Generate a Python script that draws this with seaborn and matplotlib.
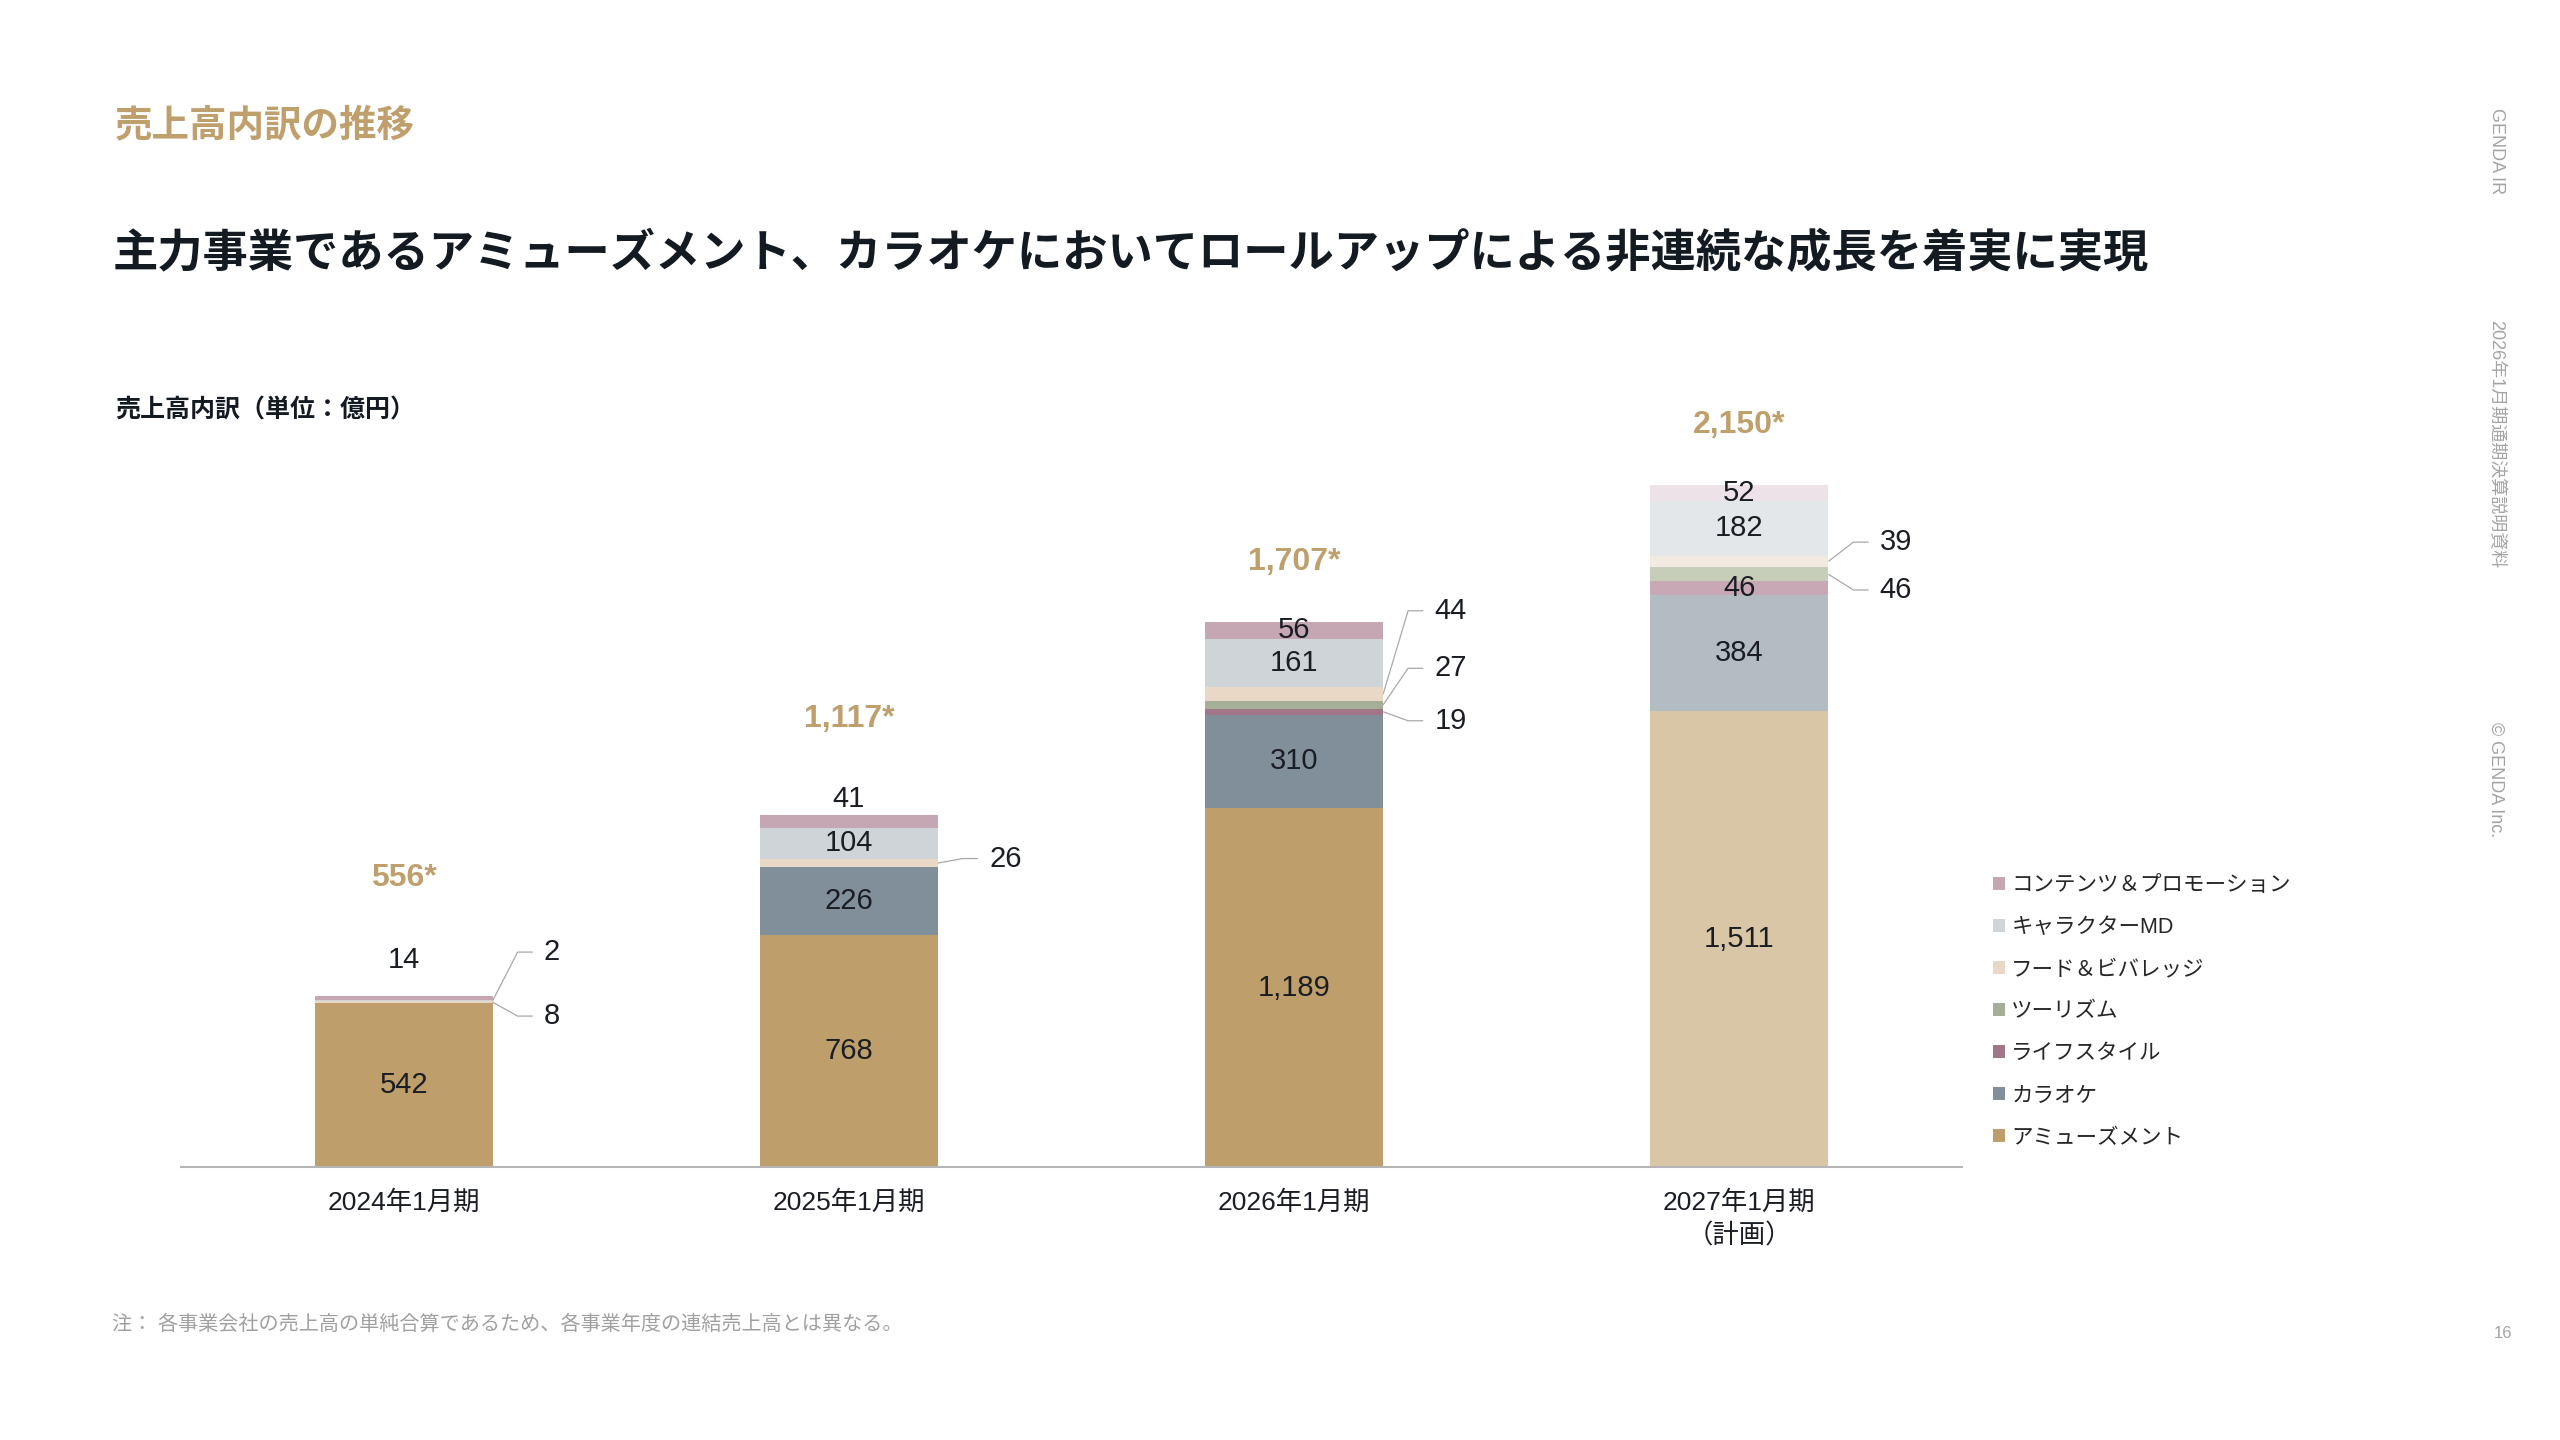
import numpy as np
import pandas as pd
import matplotlib.pyplot as plt
import seaborn as sns
from matplotlib.patches import Patch

# data (単位: 億円)
periods = ['2024年1月期', '2025年1月期', '2026年1月期', '2027年1月期\n（計画）']
segments = ['アミューズメント', 'カラオケ', 'ライフスタイル', 'ツーリズム',
            'フード＆ビバレッジ', 'キャラクターMD', 'コンテンツ＆プロモーション']
amusement = [542, 768, 1189, 1511]
karaoke = [0, 226, 310, 384]
lifestyle = [0, 0, 19, 46]
tourism = [0, 0, 27, 46]
food = [8, 26, 44, 39]
character = [2, 104, 161, 182]
contents = [14, 41, 56, 52]
total_labels = ['556*', '1,117*', '1,707*', '2,150*']

# colours: actual years / plan year
colors = ['#be9e6a', '#818f9a', '#a27689', '#a5ae97', '#e9d8c5', '#cfd4d8', '#c5a7b4']
plan_colors = ['#d8c6a6', '#b3bcc3', '#c8a8b5', '#c6cdb9', '#f2eae1', '#e3e7ea', '#ede2e8']

# label layout: offsets are in data units
above = {(0, 6): 120, (1, 6): 55}
callouts = {(0, 5): 161, (0, 4): -46, (1, 4): 15, (2, 4): 276, (2, 3): 121,
            (2, 2): -30, (3, 4): 64, (3, 3): -52}
total_offset = [392, 319, 200, 199]

sns.set_theme(style='white')
plt.rcParams['font.family'] = ['Liberation Sans', 'Noto Sans CJK JP']

values = np.array([amusement, karaoke, lifestyle, tourism, food, character, contents])
cum = values.cumsum(axis=0)
df = pd.DataFrame(cum.T, columns=segments)
df['period'] = periods

fig = plt.figure(figsize=(25.6, 14.4), dpi=100)
ax = fig.add_axes([0.0707, 0.1896, 0.6957, 0.6042])

# stacked bars: draw cumulative totals from the top layer down
for k in range(len(segments) - 1, -1, -1):
    pal = [colors[k]] * 3 + [plan_colors[k]]
    sns.barplot(data=df, x='period', y=segments[k], hue='period', order=periods,
                hue_order=periods, palette=pal, saturation=1, width=0.4,
                errorbar=None, legend=False, linewidth=0, ax=ax)

txt = '#1a1e24'
bw = 0.2
for i in range(len(periods)):
    for k in range(len(segments)):
        v = values[k, i]
        if v == 0:
            continue
        mid = cum[k, i] - v / 2
        label = f'{v:,}'
        if (i, k) in above:
            ax.text(i, cum[-1, i] + above[(i, k)], label, ha='center', va='center',
                    fontsize=21, color=txt)
        elif (i, k) in callouts:
            ly = mid + callouts[(i, k)]
            ax.plot([i + bw, i + bw + 0.056, i + bw + 0.09], [mid, ly, ly],
                    color='#a8a8a8', lw=0.9, solid_capstyle='butt')
            ax.text(i + bw + 0.115, ly, label, ha='left', va='center',
                    fontsize=21, color=txt)
        else:
            ax.text(i, mid, label, ha='center', va='center', fontsize=21, color=txt)
    ax.text(i, cum[-1, i] + total_offset[i], total_labels[i], ha='center', va='center',
            fontsize=23, fontweight='bold', color='#bf9f6c')

ax.set_xlim(-0.5, 3.5)
ax.set_ylim(0, 2883)
ax.set_yticks([])
ax.set_xlabel('')
ax.set_ylabel('')
ax.tick_params(axis='x', length=0, pad=17, labelsize=19, colors=txt)
for lab in ax.get_xticklabels():
    lab.set_linespacing(1.4)
sns.despine(ax=ax, left=True)
ax.spines['bottom'].set_color('#b5b5b5')
ax.spines['bottom'].set_linewidth(1.5)

handles = [Patch(facecolor=colors[k], edgecolor='none', label=segments[k])
           for k in range(len(segments) - 1, -1, -1)]
fig.legend(handles=handles, loc='upper left', bbox_to_anchor=(1993 / 2560, 1 - 875 / 1440),
           frameon=False, fontsize=15.5, handlelength=0.55, handleheight=0.55,
           handletextpad=0.3, labelspacing=0.98, borderpad=0, borderaxespad=0)

# slide texts
fig.text(115 / 2560, 1 - 126 / 1440, '売上高内訳の推移', fontsize=27, fontweight='bold',
         color='#bf9f6c', va='center', ha='left')
fig.text(113 / 2560, 1 - 254 / 1440,
         '主力事業であるアミューズメント、カラオケにおいてロールアップによる非連続な成長を着実に実現',
         fontsize=32.6, fontweight='bold', color='#141a22', va='center', ha='left')
fig.text(115 / 2560, 1 - 410 / 1440, '売上高内訳（単位：億円）', fontsize=18,
         fontweight='bold', color='#141a22', va='center', ha='left')
fig.text(112 / 2560, 1 - 1324 / 1440,
         '注： 各事業会社の売上高の単純合算であるため、各事業年度の連結売上高とは異なる。',
         fontsize=14.5, color='#a0a0a0', va='center', ha='left')

side = '#a3a3a3'
fig.text(2496 / 2560, 1 - 108 / 1440, 'GENDA IR', rotation=270, fontsize=13,
         color=side, ha='center', va='top')
fig.text(2496 / 2560, 1 - 320 / 1440, '2026年1月期通期決算説明資料', rotation=270,
         fontsize=13, color=side, ha='center', va='top')
fig.text(2496 / 2560, 1 - 722 / 1440, '© GENDA Inc.', rotation=270, fontsize=13,
         color=side, ha='center', va='top')
fig.text(2503 / 2560, 1 - 1333 / 1440, '16', fontsize=12, color=side,
         ha='center', va='center')

fig.savefig('out.png', dpi=100, facecolor='white')
